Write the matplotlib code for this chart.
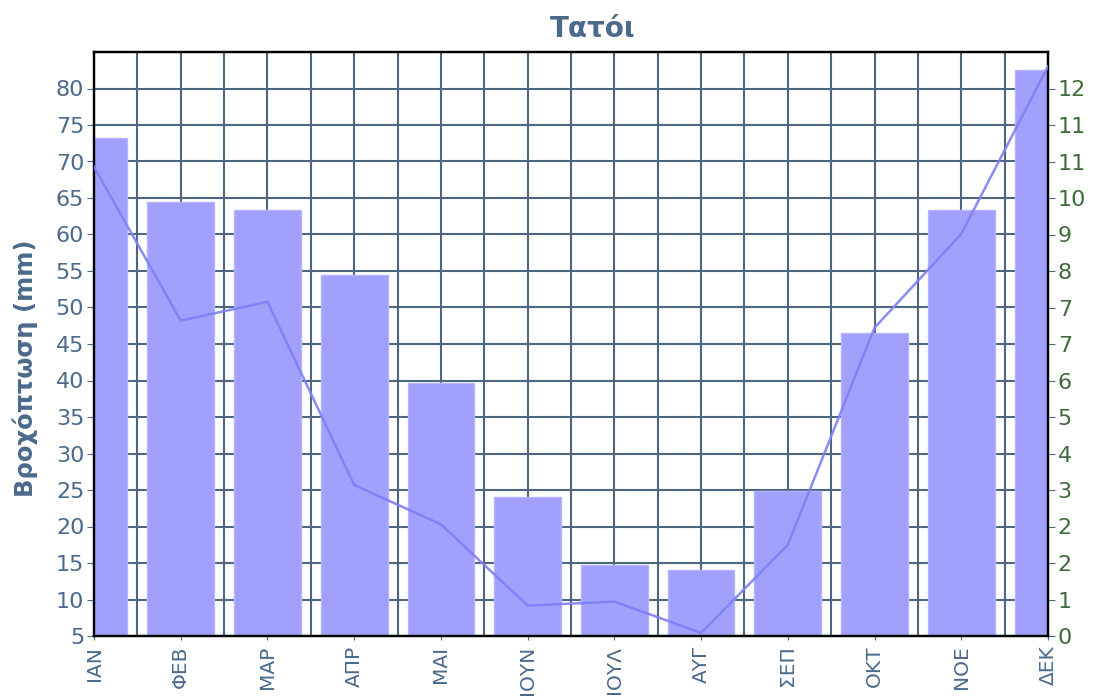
import matplotlib
matplotlib.use("Agg")
import matplotlib.pyplot as plt
from matplotlib.ticker import MultipleLocator, FixedLocator
import numpy as np

months = ['ΙΑΝ', 'ΦΕΒ', 'ΜΑΡ', 'ΑΠΡ', 'ΜΑΙ', 'ΙΟΥΝ', 'ΙΟΥΛ', 'ΑΥΓ', 'ΣΕΠ', 'ΟΚΤ', 'ΝΟΕ', 'ΔΕΚ']
rain = [73.2, 64.5, 63.4, 54.5, 39.7, 24.1, 14.7, 14.1, 24.9, 46.5, 63.4, 82.5]
line_vals = [10.5, 7.06, 7.48, 3.38, 2.5, 0.68, 0.77, 0.07, 2.04, 6.9, 9.0, 12.75]
left_ticks = [5, 10, 15, 20, 25, 30, 35, 40, 45, 50, 55, 60, 65, 70, 75, 80]
right_step = 0.817
right_labels = ['0', '1', '2', '2', '3', '4', '5', '6', '7', '7', '8', '9', '10', '11', '11', '12']

title = 'Τατόι'
ylabel = 'Βροχόπτωση (mm)'

blue = '#4a6a8c'
green = '#3f6a3a'
grid_c = '#4d6783'

fig = plt.figure(figsize=(10.96, 7.0), dpi=100)
ax = fig.add_axes([94/1096, 1-636/700, (1048-94)/1096, (636-52)/700])

x = np.arange(len(months))
ax.bar(x, rain, width=0.77, color='#a1a1fd', edgecolor='#b4b4ff', linewidth=1.0, zorder=2)
ax.set_xlim(0, len(months) - 1)
ax.set_ylim(5, 85)
ax.set_axisbelow(True)

ax.yaxis.set_major_locator(FixedLocator(left_ticks))
ax.set_xticks(x)
ax.set_xticklabels(months, rotation=90, fontsize=14.5, color=blue)
ax.xaxis.set_minor_locator(MultipleLocator(0.5))
ax.grid(True, which='major', color=grid_c, linewidth=1.5)
ax.grid(True, which='minor', axis='x', color=grid_c, linewidth=1.5)
ax.tick_params(axis='x', which='minor', length=0)
ax.tick_params(axis='x', which='major', length=3, color=blue, pad=4)
ax.tick_params(axis='y', labelsize=16, labelcolor=blue, length=5, color=blue, pad=2)
for s in ax.spines.values():
    s.set_color('black')
    s.set_linewidth(1.6)

fig.text(25/1096, 1-368/700, ylabel, rotation=90, ha='center', va='center',
         fontsize=17.5, fontweight='bold', color=blue)
fig.text(593/1096, 1-29/700, title, ha='center', va='center',
         fontsize=20, fontweight='bold', color=blue)

ax2 = ax.twinx()
n_right = len(right_labels)
ax2.set_ylim(0, (85 - 5) / 5 * right_step)
ax2.yaxis.set_major_locator(FixedLocator([i * right_step for i in range(n_right)]))
ax2.set_yticklabels(right_labels)
ax2.tick_params(axis='y', labelsize=16, labelcolor=green, length=5, color=blue, pad=2)
ax2.plot(x, line_vals, color='#7f7ff8', linewidth=1.8, alpha=0.9, zorder=3)
for s in ax2.spines.values():
    s.set_color('black')
    s.set_linewidth(1.6)

fig.savefig('out.png', dpi=100, facecolor='white')
